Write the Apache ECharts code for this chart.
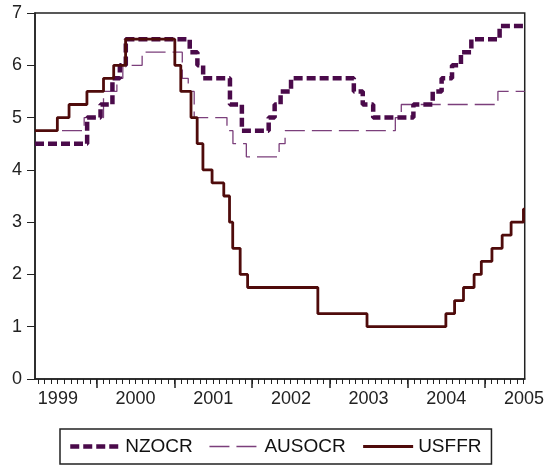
<!DOCTYPE html>
<html><head><meta charset="utf-8">
<script src="https://cdn.jsdelivr.net/npm/echarts@6/dist/echarts.min.js"></script>
<style>html,body{margin:0;padding:0;background:#fff}#c{width:547px;height:467px}</style>
</head><body><div id="c"></div>
<script>
// ---- data (change dates and the new rate from that date) ----
const seriesNames = ['NZOCR', 'AUSOCR', 'USFFR'];

const nzDates = ['1999-03-17','1999-11-17','2000-01-19','2000-03-15','2000-04-19','2000-05-17',
  '2001-03-14','2001-04-19','2001-05-16','2001-09-19','2001-11-14','2002-03-20','2002-04-17',
  '2002-05-15','2002-07-03','2003-04-24','2003-06-05','2003-07-24','2004-01-29','2004-04-29',
  '2004-06-10','2004-07-29','2004-09-09','2004-10-28','2005-03-10','2005-07-06'];
const nzValues = [4.50,5.00,5.25,5.75,6.00,6.50,
  6.25,6.00,5.75,5.25,4.75,5.00,5.25,
  5.50,5.75,5.50,5.25,5.00,5.25,5.50,
  5.75,6.00,6.25,6.50,6.75,6.75];

const ausDates = ['1999-03-17','1999-11-03','2000-02-02','2000-04-05','2000-05-03','2000-08-02',
  '2001-02-07','2001-03-07','2001-04-04','2001-09-05','2001-10-03','2001-12-05','2002-05-08',
  '2002-06-05','2003-11-05','2003-12-03','2005-03-02','2005-07-06'];
const ausValues = [4.75,5.00,5.50,5.75,6.00,6.25,
  5.75,5.50,5.00,4.75,4.50,4.25,4.50,
  4.75,5.00,5.25,5.50,5.50];

const usDates = ['1999-03-17','1999-06-30','1999-08-24','1999-11-16','2000-02-02','2000-03-21',
  '2000-05-16','2001-01-03','2001-01-31','2001-03-20','2001-04-18','2001-05-15','2001-06-27',
  '2001-08-21','2001-09-17','2001-10-02','2001-11-06','2001-12-11','2002-11-06','2003-06-25',
  '2004-06-30','2004-08-10','2004-09-21','2004-11-10','2004-12-14','2005-02-02','2005-03-22',
  '2005-05-03','2005-06-30','2005-07-06'];
const usValues = [4.75,5.00,5.25,5.50,5.75,6.00,
  6.50,6.00,5.50,5.00,4.50,4.00,3.75,
  3.50,3.00,2.50,2.00,1.75,1.25,1.00,
  1.25,1.50,1.75,2.00,2.25,2.50,2.75,
  3.00,3.25,3.25];

const yearLabels = ['1999','2000','2001','2002','2003','2004','2005'];
const yTicks = [0,1,2,3,4,5,6,7];
const startDate = '1999-03-17';
const endDate = '2005-07-06';

// ---- helpers ----
function decYear(s) {
  const p = s.split('-').map(Number);
  const a = Date.UTC(p[0], 0, 1), b = Date.UTC(p[0] + 1, 0, 1);
  return p[0] + (Date.UTC(p[0], p[1] - 1, p[2]) - a) / (b - a);
}
function pairs(dates, vals) { return dates.map((d, i) => [decYear(d), vals[i]]); }

const xMin = decYear(startDate), xMax = decYear(endDate);
const monthTicks = [];
for (let y = 1999; y <= 2005; y++) {
  for (let m = 1; m <= 12; m++) {
    const v = decYear(y + '-' + String(m).padStart(2, '0') + '-01');
    if (v >= xMin && v <= xMax) monthTicks.push(v);
  }
}
const yearTicks = yearLabels.map(Number).filter(y => y >= xMin && y <= xMax);
const labelPos = yearLabels.map(y => Number(y) + 0.5);

const styles = {
  NZOCR: { color: '#4a0a4a', width: 4.5, type: [9, 4] },
  AUSOCR: { color: '#7b3f7b', width: 1.3, type: [20, 7] },
  USFFR: { color: '#4f0b0b', width: 2.8, type: 'solid' }
};

const FONT = 'Liberation Sans, Arial, sans-serif';
const chart = echarts.init(document.getElementById('c'), null, { renderer: 'canvas' });
chart.setOption({
  animation: false,
  backgroundColor: '#fff',
  grid: { left: 35, right: 20, top: 13, bottom: 88, show: true, borderColor: '#222', borderWidth: 1.5 },
  legend: {
    data: seriesNames.map(n => ({ name: n, lineStyle: Object.assign({}, styles[n]) })),
    left: 60, top: 429,
    itemWidth: 50, itemHeight: 12, itemGap: 16,
    padding: [8, 10, 8, 8],
    borderColor: '#222', borderWidth: 1.5,
    itemStyle: { opacity: 0, borderWidth: 0 },
    textStyle: { fontFamily: FONT, fontSize: 19, color: '#111' }
  },
  xAxis: [{
    type: 'value', min: xMin, max: xMax,
    axisLine: { lineStyle: { color: '#222', width: 1.5 } },
    axisTick: { customValues: monthTicks, length: 5, lineStyle: { color: '#222', width: 1 } },
    axisLabel: { customValues: labelPos, formatter: v => String(Math.floor(v)), fontFamily: FONT, fontSize: 18, color: '#222', margin: 11 },
    splitLine: { show: false }
  }, {
    type: 'value', min: xMin, max: xMax, position: 'bottom', gridIndex: 0,
    axisLine: { show: false },
    axisTick: { customValues: yearTicks, length: 9, lineStyle: { color: '#222', width: 1.5 } },
    axisLabel: { show: false },
    splitLine: { show: false }
  }],
  yAxis: {
    type: 'value', min: yTicks[0], max: yTicks[yTicks.length - 1], interval: 1,
    axisLine: { show: true, lineStyle: { color: '#222', width: 1.5 } },
    axisTick: { show: true, length: 8, lineStyle: { color: '#222', width: 1 } },
    axisLabel: { fontFamily: FONT, fontSize: 18, color: '#222', margin: 13 },
    splitLine: { show: false }
  },
  series: [{
    name: 'AUSOCR', type: 'line', step: 'end', symbol: 'none', xAxisIndex: 0, z: 2,
    data: pairs(ausDates, ausValues),
    lineStyle: Object.assign({}, styles.AUSOCR),
    itemStyle: { color: styles.AUSOCR.color }
  }, {
    name: 'NZOCR', type: 'line', step: 'end', symbol: 'none', xAxisIndex: 0, z: 3,
    data: pairs(nzDates, nzValues),
    lineStyle: Object.assign({}, styles.NZOCR),
    itemStyle: { color: styles.NZOCR.color }
  }, {
    name: 'USFFR', type: 'line', step: 'end', symbol: 'none', xAxisIndex: 0, z: 4,
    data: pairs(usDates, usValues),
    lineStyle: Object.assign({}, styles.USFFR),
    itemStyle: { color: styles.USFFR.color }
  }]
});
</script></body></html>
